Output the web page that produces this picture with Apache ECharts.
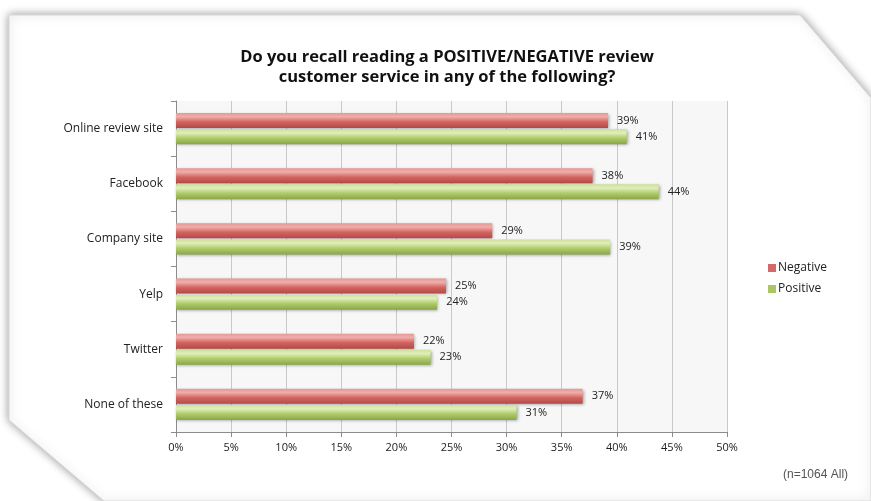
<!DOCTYPE html>
<html>
<head>
<meta charset="utf-8">
<script src="https://cdn.jsdelivr.net/npm/echarts@6/dist/echarts.min.js"></script>
<style>html,body{margin:0;padding:0;background:#fff;}#c{width:871px;height:501px;}</style>
</head>
<body>
<div id="c"></div>
<script>
var categories = ['Online review site', 'Facebook', 'Company site', 'Yelp', 'Twitter', 'None of these'];
var negativeValues = [39.2, 37.8, 28.7, 24.5, 21.6, 36.9];
var positiveValues = [40.9, 43.8, 39.4, 23.7, 23.1, 30.9];
var xTicks = [0, 5, 10, 15, 20, 25, 30, 35, 40, 45, 50];
var titleLines = ['Do you recall reading a POSITIVE/NEGATIVE review', 'customer service in any of the following?'];
var noteText = '(n=1064 All)';

var chart = echarts.init(document.getElementById('c'), null, {renderer: 'canvas'});
var FONT = '"Open Sans", "Noto Sans", sans-serif';

function grad(top, hi, mid, bot) {
  return new echarts.graphic.LinearGradient(0, 0, 0, 1, [
    {offset: 0, color: top},
    {offset: 0.25, color: hi},
    {offset: 0.6, color: mid},
    {offset: 1, color: bot}
  ]);
}
var redFill = grad('#e59894', '#f0aeab', '#d3645f', '#b24a47');
var greenFill = grad('#cde09c', '#e0efba', '#afca69', '#89a648');

var option = {
  animation: false,
  backgroundColor: '#ffffff',
  graphic: [
    {
      type: 'polygon', z: -10,
      shape: {points: [[9, 15], [800, 15], [871, 98], [871, 501], [104, 501], [9, 420]]},
      style: {fill: '#ffffff', stroke: '#d8d8d8', lineWidth: 1, shadowBlur: 10, shadowColor: 'rgba(0,0,0,0.4)', shadowOffsetX: 0, shadowOffsetY: 0}
    },
    {
      type: 'text', left: 783, top: 469,
      style: {text: noteText, fill: '#555555', font: '12px "Liberation Sans", Arial, sans-serif'}
    }
  ],
  title: {
    text: titleLines.join('\n'),
    left: 442, top: 42, textAlign: 'center',
    textStyle: {fontFamily: FONT, fontWeight: 'bold', fontSize: 16.5, color: '#111', lineHeight: 20}
  },
  legend: {
    orient: 'vertical', left: 763, top: 257,
    itemWidth: 8, itemHeight: 8, itemGap: 9, icon: 'rect',
    textStyle: {fontFamily: FONT, fontSize: 12, color: '#222', padding: [0, 0, 0, -3]},
    data: [
      {name: 'Negative', itemStyle: {color: '#d46a68'}},
      {name: 'Positive', itemStyle: {color: '#a9c763'}}
    ]
  },
  grid: {
    left: 176, top: 101, width: 551, height: 331,
    show: true, backgroundColor: '#f7f7f7', borderWidth: 0,
    containLabel: false
  },
  xAxis: {
    type: 'value', min: 0, max: 50, interval: 5,
    axisLine: {show: true, lineStyle: {color: '#8c8c8c'}},
    axisTick: {show: true, length: 5, lineStyle: {color: '#8c8c8c'}},
    splitLine: {show: true, lineStyle: {color: '#c9c9c9'}},
    axisLabel: {
      margin: 10, fontSize: 11, color: '#222', fontFamily: FONT,
      formatter: function (v) { return xTicks.indexOf(v) >= 0 ? v + '%' : ''; }
    }
  },
  yAxis: {
    type: 'category', data: categories, inverse: true,
    axisLine: {show: true, lineStyle: {color: '#8c8c8c'}},
    axisTick: {show: true, length: 5, lineStyle: {color: '#8c8c8c'}},
    axisLabel: {margin: 13, fontSize: 12, color: '#222', fontFamily: FONT}
  },
  series: [
    {
      name: 'Negative', type: 'bar', data: negativeValues,
      barWidth: 15, barGap: '8%',
      itemStyle: {color: redFill, shadowBlur: 3, shadowColor: 'rgba(0,0,0,0.35)', shadowOffsetX: 1, shadowOffsetY: 1},
      label: {show: true, position: 'right', distance: 9, fontSize: 11, color: '#222', fontFamily: FONT,
        formatter: function (p) { return Math.round(p.value) + '%'; }}
    },
    {
      name: 'Positive', type: 'bar', data: positiveValues,
      barWidth: 15, barGap: '8%',
      itemStyle: {color: greenFill, shadowBlur: 3, shadowColor: 'rgba(0,0,0,0.35)', shadowOffsetX: 1, shadowOffsetY: 1},
      label: {show: true, position: 'right', distance: 9, fontSize: 11, color: '#222', fontFamily: FONT,
        formatter: function (p) { return Math.round(p.value) + '%'; }}
    }
  ]
};
chart.setOption(option);
</script>
</body>
</html>
